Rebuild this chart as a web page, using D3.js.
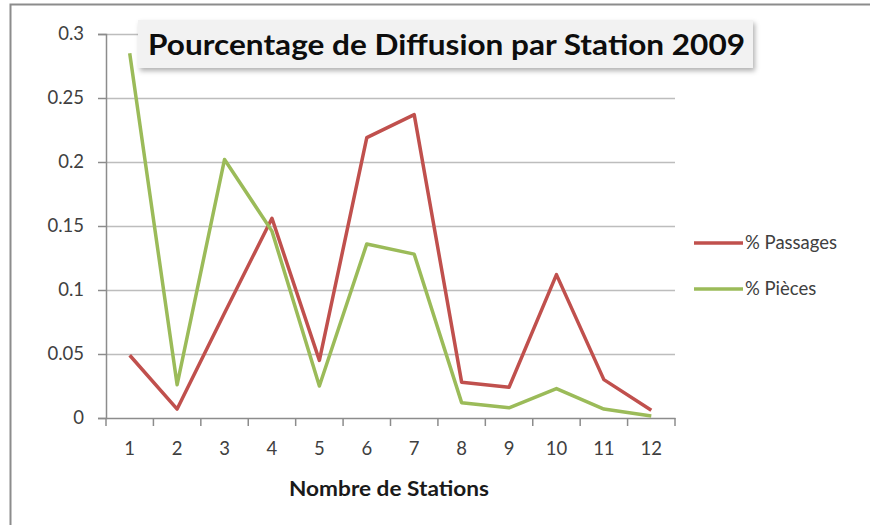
<!DOCTYPE html>
<html>
<head>
<meta charset="utf-8">
<script src="https://cdn.jsdelivr.net/npm/d3@7"></script>
<style>
  body { margin: 0; background: #fff; }
  svg { display: block; font-family: Lato, "Open Sans", sans-serif; }
</style>
</head>
<body>
<div id="chart"></div>
<script>
/** Chart data */
const stations = [1, 2, 3, 4, 5, 6, 7, 8, 9, 10, 11, 12];
const passages = [0.049, 0.007, 0.082, 0.156, 0.045, 0.219, 0.237, 0.028, 0.024, 0.112, 0.030, 0.006];
const pieces = [0.285, 0.026, 0.202, 0.146, 0.025, 0.136, 0.128, 0.012, 0.008, 0.023, 0.007, 0.0015];
const yTicks = [0, 0.05, 0.1, 0.15, 0.2, 0.25, 0.3];
const seriesNames = ["% Passages", "% Pièces"];
const seriesColors = ["#c0504d", "#9bbb59"];

/** Graph configs */
const width = 870;
const height = 525;
const plot = { left: 106, right: 675, top: 34, bottom: 418 };

const svg = d3
  .select("#chart")
  .append("svg")
  .attr("width", width)
  .attr("height", height);

/** Outer frame (image is cropped at right and bottom) */
svg.append("path")
  .attr("d", `M10.5,${height} V4.5 H${width}`)
  .attr("fill", "none")
  .attr("stroke", "#8c8c8c")
  .attr("stroke-width", 2);

/** Scales */
const xScale = d3.scaleBand().domain(stations).range([plot.left, plot.right]);
const yScale = d3.scaleLinear().domain([0, 0.3]).range([plot.bottom, plot.top]);

/** Gridlines */
svg.append("g")
  .selectAll("line")
  .data(yTicks.filter((d) => d > 0))
  .join("line")
  .attr("x1", plot.left)
  .attr("x2", plot.right)
  .attr("y1", (d) => Math.round(yScale(d)) + 0.5)
  .attr("y2", (d) => Math.round(yScale(d)) + 0.5)
  .attr("stroke", "#bdbdbd")
  .attr("stroke-width", 1.5);

/** Y axis */
const yAxis = svg.append("g")
  .attr("transform", `translate(${plot.left},0)`)
  .call(d3.axisLeft(yScale).tickValues(yTicks).tickSize(8).tickPadding(14).tickFormat((d) => String(d)));

/** X axis */
const xAxis = svg.append("g")
  .attr("transform", `translate(0,${plot.bottom})`)
  .call(d3.axisBottom(xScale).tickSize(0).tickPadding(24));

/** Category boundary ticks on x axis */
xAxis.append("g")
  .selectAll("line")
  .data(d3.range(stations.length + 1))
  .join("line")
  .attr("x1", (i) => plot.left + i * xScale.step())
  .attr("x2", (i) => plot.left + i * xScale.step())
  .attr("y1", 0)
  .attr("y2", 8)
  .attr("stroke", "#8c8c8c")
  .attr("stroke-width", 1.5);

[yAxis, xAxis].forEach((axis) => {
  axis.select(".domain").attr("stroke", "#8c8c8c").attr("stroke-width", 1.5);
  axis.selectAll(".tick line").attr("stroke", "#8c8c8c").attr("stroke-width", 1.5);
  axis.selectAll("text")
    .attr("fill", "#404040")
    .style("font-size", "18.5px")
    .style("font-family", "Lato, sans-serif");
});

/** Axis title */
svg.append("text")
  .attr("x", 389)
  .attr("y", 496)
  .attr("text-anchor", "middle")
  .attr("fill", "#1a1a1a")
  .attr("textLength", 200)
  .attr("lengthAdjust", "spacingAndGlyphs")
  .style("font-size", "20px")
  .style("font-weight", "bold")
  .text("Nombre de Stations");

/** Lines */
const line = d3.line()
  .x((d, i) => xScale(stations[i]) + xScale.bandwidth() / 2)
  .y((d) => yScale(d));

[passages, pieces].forEach((series, i) => {
  svg.append("path")
    .datum(series)
    .attr("d", line)
    .attr("fill", "none")
    .attr("stroke", seriesColors[i])
    .attr("stroke-width", 3.5)
    .attr("stroke-linejoin", "round");
});

/** Title box with shadow */
const defs = svg.append("defs");
const shadow = defs.append("filter").attr("id", "shadow").attr("x", "-5%").attr("y", "-20%").attr("width", "115%").attr("height", "160%");
shadow.append("feDropShadow")
  .attr("dx", 2).attr("dy", 3).attr("stdDeviation", 2.5)
  .attr("flood-color", "#000").attr("flood-opacity", 0.3);

svg.append("rect")
  .attr("x", 138)
  .attr("y", 20)
  .attr("width", 615)
  .attr("height", 48)
  .attr("fill", "#f2f2f2")
  .attr("filter", "url(#shadow)");

svg.append("text")
  .attr("x", 148)
  .attr("y", 55)
  .attr("fill", "#0d0d0d")
  .attr("textLength", 597)
  .attr("lengthAdjust", "spacingAndGlyphs")
  .style("font-size", "28px")
  .style("font-weight", "bold")
  .text("Pourcentage de Diffusion par Station 2009");

/** Legend */
const legend = svg.append("g")
  .selectAll("g")
  .data(seriesNames)
  .join("g")
  .attr("transform", (d, i) => `translate(694,${243 + i * 46})`);

legend.append("line")
  .attr("x1", 0)
  .attr("x2", 49)
  .attr("stroke", (d, i) => seriesColors[i])
  .attr("stroke-width", 3.5);

legend.append("text")
  .attr("x", 51)
  .attr("dy", "0.35em")
  .attr("fill", "#404040")
  .style("font-size", "18.5px")
  .text((d) => d);
</script>
</body>
</html>
